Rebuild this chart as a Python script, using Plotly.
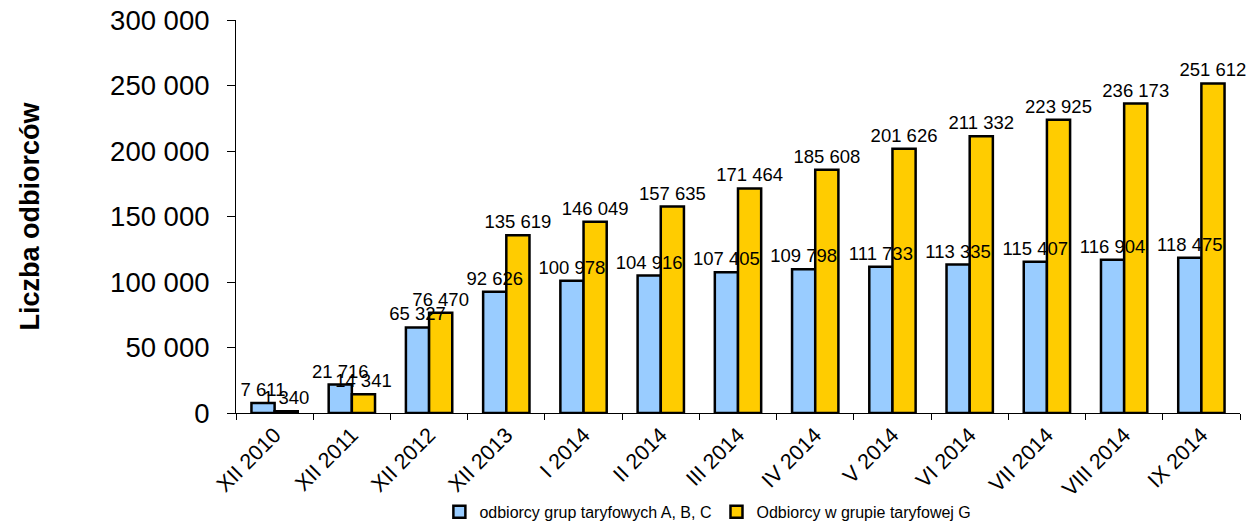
import plotly.graph_objects as go

categories = ["XII 2010", "XII 2011", "XII 2012", "XII 2013", "I 2014", "II 2014", "III 2014",
              "IV 2014", "V 2014", "VI 2014", "VII 2014", "VIII 2014", "IX 2014"]
abc = [7611, 21716, 65327, 92626, 100978, 104916, 107405, 109798, 111733, 113335, 115407, 116904, 118475]
g = [1340, 14341, 76470, 135619, 146049, 157635, 171464, 185608, 201626, 211332, 223925, 236173, 251612]
y_ticks = [0, 50000, 100000, 150000, 200000, 250000, 300000]


def fmt(v):
    return f"{v:,}".replace(",", " ")


label_font = dict(size=18.5, color="black")

fig = go.Figure()
fig.add_trace(go.Bar(
    x=categories, y=abc, name="odbiorcy grup taryfowych A, B, C", offsetgroup="a",
    marker=dict(color="#99CCFF", line=dict(color="black", width=2.5)),
    hoverinfo="skip",
))
fig.add_trace(go.Bar(
    x=categories, y=g, name="Odbiorcy w grupie taryfowej G", offsetgroup="b",
    marker=dict(color="#FFCC00", line=dict(color="black", width=2.5)),
    text=[fmt(v) for v in g], textposition="outside", cliponaxis=False,
    constraintext="none", textfont=label_font,
))
# transparent copy of the first series, drawn last so its labels sit on top
fig.add_trace(go.Bar(
    x=categories, y=abc, name="odbiorcy grup taryfowych A, B, C", offsetgroup="a",
    showlegend=False,
    marker=dict(color="rgba(0,0,0,0)", line=dict(color="rgba(0,0,0,0)", width=0)),
    text=[fmt(v) for v in abc], textposition="outside", cliponaxis=False,
    constraintext="none", textfont=label_font,
))

fig.update_layout(
    width=1253, height=524,
    margin=dict(l=236, r=13, t=20, b=111, autoexpand=False),
    paper_bgcolor="white", plot_bgcolor="white",
    font=dict(family="Liberation Sans, Arial, sans-serif", color="black"),
    barmode="group", bargap=0.4, bargroupgap=0,
    showlegend=True,
    legend=dict(orientation="h", x=0.47, xanchor="center", y=0.023, yanchor="middle",
                yref="container", font=dict(size=16), itemwidth=30, tracegroupgap=0),
)
fig.update_xaxes(
    tickangle=-45, tickfont=dict(size=21.5), showline=True, linecolor="black", linewidth=1,
    ticks="outside", tickson="boundaries", ticklen=6, tickcolor="black", showgrid=False,
    automargin=False,
)
fig.update_yaxes(
    range=[0, 300000], tickvals=y_ticks, ticktext=[fmt(v) for v in y_ticks],
    tickfont=dict(size=27.5), showline=True, linecolor="black", linewidth=1,
    ticks="outside", ticklen=8, tickcolor="black", showgrid=False, zeroline=False,
    ticklabelstandoff=12, automargin=False,
    title=dict(text="<b>Liczba odbiorców</b>", font=dict(size=27), standoff=62),
)

fig.write_html("out.html", config={"displayModeBar": False},
               post_script="document.body.style.margin='0px';document.body.style.overflow='hidden';")
